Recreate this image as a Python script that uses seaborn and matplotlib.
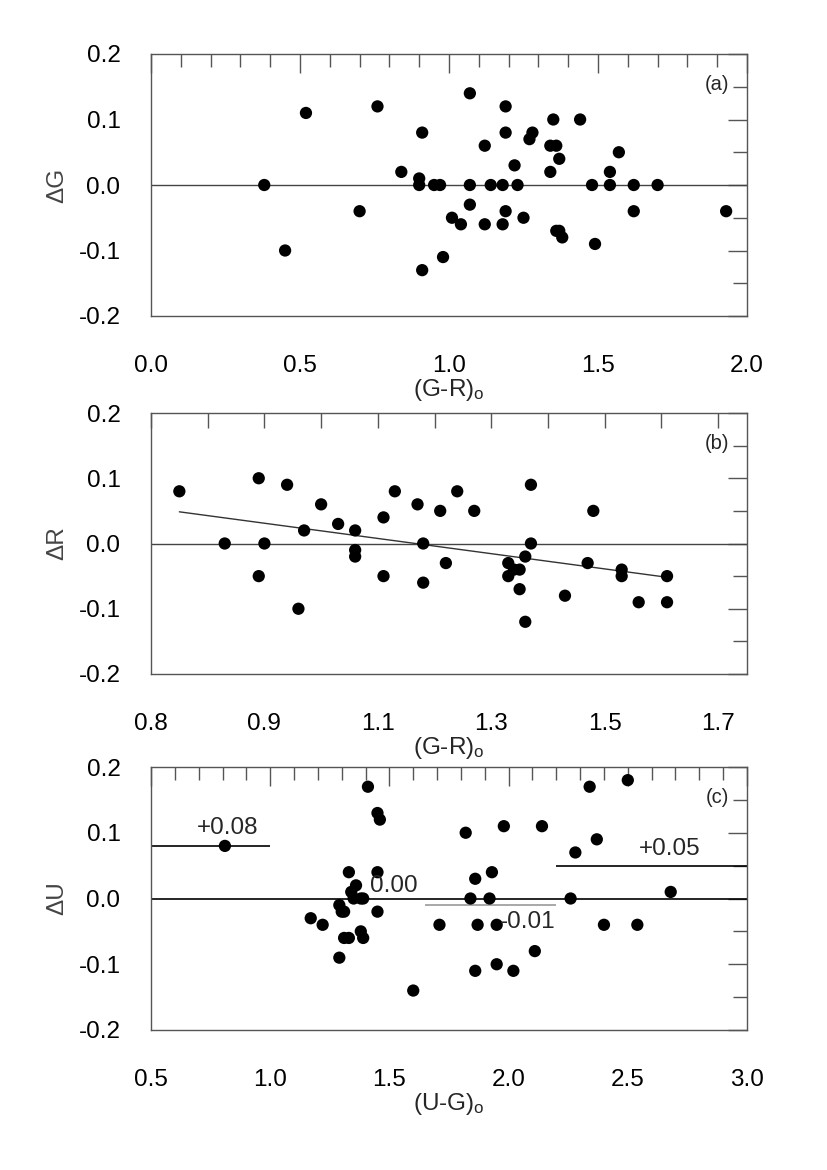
import numpy as np
import pandas as pd
import matplotlib
matplotlib.use("Agg")
import matplotlib.pyplot as plt
from matplotlib.ticker import MultipleLocator, FixedLocator, FixedFormatter
import seaborn as sns

sns.set_theme(style="white")
plt.rcParams['font.family'] = ['Liberation Sans', 'DejaVu Sans']
plt.rcParams['mathtext.fontset'] = 'custom'
plt.rcParams['mathtext.rm'] = 'Liberation Sans'
plt.rcParams['mathtext.it'] = 'Liberation Sans'

# ---------------- data ----------------
# panel (a): Delta G vs (G-R)o
a_x = [0.38, 0.45, 0.52, 0.76, 0.70, 0.84, 0.91, 0.90, 0.90, 0.95, 0.97, 0.91, 0.98,
       1.01, 1.04, 1.07, 1.07, 1.07, 1.12, 1.12, 1.14, 1.18, 1.18, 1.19, 1.19, 1.19,
       1.22, 1.23, 1.25, 1.27, 1.28, 1.34, 1.36, 1.35, 1.34, 1.37, 1.36, 1.37, 1.38,
       1.44, 1.48, 1.49, 1.54, 1.54, 1.57, 1.62, 1.62, 1.70, 1.93]
a_y = [0.00, -0.10, 0.11, 0.12, -0.04, 0.02, 0.08, 0.01, 0.00, 0.00, 0.00, -0.13, -0.11,
       -0.05, -0.06, 0.14, 0.00, -0.03, 0.06, -0.06, 0.00, 0.00, -0.06, 0.12, 0.08, -0.04,
       0.03, 0.00, -0.05, 0.07, 0.08, 0.06, 0.06, 0.10, 0.02, 0.04, -0.07, -0.07, -0.08,
       0.10, 0.00, -0.09, 0.00, 0.02, 0.05, 0.00, -0.04, 0.00, -0.04]

# panel (b): Delta R vs (G-R)o
b_x = [0.75, 0.83, 0.89, 0.89, 0.90, 0.94, 0.96, 0.97, 1.00, 1.03, 1.06, 1.06, 1.06,
       1.11, 1.11, 1.13, 1.17, 1.18, 1.18, 1.21, 1.22, 1.24, 1.27, 1.33, 1.33, 1.34,
       1.35, 1.35, 1.36, 1.36, 1.37, 1.37, 1.43, 1.47, 1.48, 1.53, 1.53, 1.56, 1.61, 1.61]
b_y = [0.08, 0.00, 0.10, -0.05, 0.00, 0.09, -0.10, 0.02, 0.06, 0.03, 0.02, -0.01, -0.02,
       0.04, -0.05, 0.08, 0.06, 0.00, -0.06, 0.05, -0.03, 0.08, 0.05, -0.03, -0.05, -0.04,
       -0.04, -0.07, -0.02, -0.12, 0.09, 0.00, -0.08, -0.03, 0.05, -0.04, -0.05, -0.09, -0.05, -0.09]
b_tick_pos = [0.7, 0.9, 1.1, 1.3, 1.5, 1.7]
b_tick_lab = ["0.8", "0.9", "1.1", "1.3", "1.5", "1.7"]

# panel (c): Delta U vs (U-G)o
c_x = [0.81, 1.41, 1.45, 1.46, 1.33, 1.45, 1.36, 1.34, 1.35, 1.38, 1.39, 1.29, 1.31, 1.30,
       1.17, 1.22, 1.45, 1.31, 1.33, 1.38, 1.39, 1.29, 1.60, 1.71,
       1.82, 1.84, 1.86, 1.86, 1.87, 1.92, 1.93, 1.95, 1.95, 1.98, 2.02, 2.11, 2.14,
       2.26, 2.28, 2.34, 2.37, 2.40, 2.50, 2.54, 2.68]
c_y = [0.08, 0.17, 0.13, 0.12, 0.04, 0.04, 0.02, 0.01, 0.00, 0.00, 0.00, -0.01, -0.02, -0.02,
       -0.03, -0.04, -0.02, -0.06, -0.06, -0.05, -0.06, -0.09, -0.14, -0.04,
       0.10, 0.00, 0.03, -0.11, -0.04, 0.00, 0.04, -0.04, -0.10, 0.11, -0.11, -0.08, 0.11,
       0.00, 0.07, 0.17, 0.09, -0.04, 0.18, -0.04, 0.01]
# mean offsets in colour bins
c_off = [0.08, -0.01, 0.05]
c_bin_lo = [0.5, 1.65, 2.2]
c_bin_hi = [1.0, 2.2, 3.0]
c_off_lab = ["+0.08", "-0.01", "+0.05"]

# ---------------- figure ----------------
W, H = 827, 1170
fig = plt.figure(figsize=(W / 100, H / 100), dpi=100)
fig.patch.set_facecolor('white')

L, R = 151 / W, 747 / W
def box(top, bot):
    return [L, 1 - bot / H, R - L, (bot - top) / H]

ax_a = fig.add_axes(box(54, 316))
ax_b = fig.add_axes(box(413, 674))
ax_c = fig.add_axes(box(767, 1030))

FS = 17.5
spine_col = '#555555'

def style(ax):
    for s in ax.spines.values():
        s.set_color(spine_col)
        s.set_linewidth(1.0)
        s.set_visible(True)
    ax.set_facecolor('white')
    ax.tick_params(axis='both', which='both', direction='in', top=True, right=True,
                   colors=spine_col, labelcolor='black', labelsize=FS, width=1.0)
    ax.tick_params(axis='x', which='major', length=14, pad=28)
    ax.tick_params(axis='x', which='minor', length=9)
    ax.tick_params(axis='y', which='major', length=14, pad=22)
    ax.tick_params(axis='y', which='minor', length=10)
    ax.set_ylim(-0.2, 0.2)
    ax.yaxis.set_major_locator(MultipleLocator(0.1))
    ax.yaxis.set_minor_locator(MultipleLocator(0.05))
    ax.yaxis.set_major_formatter(matplotlib.ticker.FormatStrFormatter('%.1f'))

def scat(ax, x, y):
    sns.scatterplot(x=x, y=y, ax=ax, color='black', s=78, edgecolor='none',
                    linewidth=0, legend=False, zorder=5)

# (a)
scat(ax_a, a_x, a_y)
ax_a.axhline(0, color='#444444', lw=1.0, zorder=1)
style(ax_a)
ax_a.set_xlim(0, 2.0)
ax_a.xaxis.set_major_locator(MultipleLocator(0.5))
ax_a.xaxis.set_minor_locator(MultipleLocator(0.1))
ax_a.xaxis.set_major_formatter(matplotlib.ticker.FormatStrFormatter('%.1f'))
ax_a.text(0.97, 0.885, '(a)', transform=ax_a.transAxes, ha='right', va='center', fontsize=14.5)

# (b)
scat(ax_b, b_x, b_y)
sns.regplot(x=b_x, y=b_y, ax=ax_b, scatter=False, ci=None, truncate=True,
            line_kws=dict(color='#333333', lw=1.0, zorder=3))
ax_b.axhline(0, color='#444444', lw=1.0, zorder=1)
style(ax_b)
ax_b.set_xlim(0.7, 1.751)
ax_b.xaxis.set_major_locator(FixedLocator(b_tick_pos))
ax_b.xaxis.set_major_formatter(FixedFormatter(b_tick_lab))
ax_b.xaxis.set_minor_locator(FixedLocator(np.arange(0.8, 1.75, 0.2)))
ax_b.tick_params(axis='x', which='both', length=11)
ax_b.text(0.97, 0.885, '(b)', transform=ax_b.transAxes, ha='right', va='center', fontsize=14.5)

# (c)
scat(ax_c, c_x, c_y)
ax_c.axhline(0, color='black', lw=1.2, zorder=1)
ax_c.hlines(c_off, c_bin_lo, c_bin_hi, colors=['black', '#999999', 'black'], lw=1.2, zorder=2)
style(ax_c)
ax_c.set_xlim(0.5, 3.0)
ax_c.xaxis.set_major_locator(MultipleLocator(0.5))
ax_c.xaxis.set_minor_locator(MultipleLocator(0.1))
ax_c.xaxis.set_major_formatter(matplotlib.ticker.FormatStrFormatter('%.1f'))
ax_c.text(0.82, 0.091, c_off_lab[0], ha='center', va='bottom', fontsize=FS, zorder=6)
ax_c.text(1.42, 0.002, '0.00', ha='left', va='bottom', fontsize=FS, zorder=6)
ax_c.text(2.195, -0.035, c_off_lab[1], ha='right', va='center', fontsize=FS, zorder=6)
ax_c.text(2.675, 0.058, c_off_lab[2], ha='center', va='bottom', fontsize=FS, zorder=6)
ax_c.text(0.97, 0.885, '(c)', transform=ax_c.transAxes, ha='right', va='center', fontsize=14.5)

for ax, xl, yl in [(ax_a, '(G-R)$_\\mathrm{o}$', '\u0394G'),
                   (ax_b, '(G-R)$_\\mathrm{o}$', '\u0394R'),
                   (ax_c, '(U-G)$_\\mathrm{o}$', '\u0394U')]:
    ax.set_xlabel(xl, fontsize=FS, labelpad=0)
    ax.set_ylabel(yl, fontsize=FS, color='#444444', labelpad=7)

fig.savefig('out.png', dpi=100, facecolor='white')
